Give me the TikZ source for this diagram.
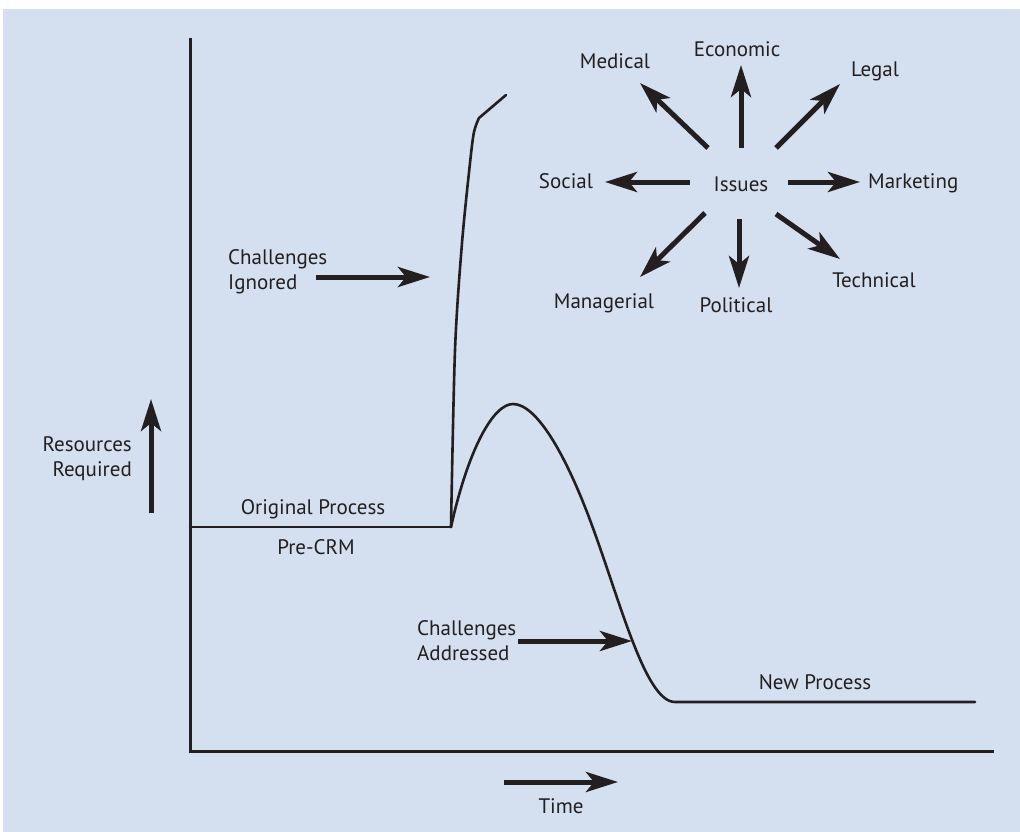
\documentclass[tikz,border=0pt]{standalone}
\usepackage{fontspec}
\setmainfont{PT Sans}
\usetikzlibrary{arrows.meta}
\definecolor{bgblue}{RGB}{212,223,240}
\definecolor{ink}{RGB}{35,31,32}
\begin{document}
\begin{tikzpicture}[x=1pt,y=-1pt,
  lbl/.style={text=ink,font=\fontsize{21}{25}\selectfont,inner sep=0pt},
  bigarrow/.style={draw=ink,line width=5pt,-{Stealth[length=32pt,width=20pt,inset=8pt]}},
  axisline/.style={draw=ink,line width=3pt},
  curveline/.style={draw=ink,line width=2.6pt,line join=round,line cap=round}]
\useasboundingbox (0,0) rectangle (1020,832);
\fill[bgblue] (3,9) rectangle (1020,832);

% axes
\coordinate (ytop) at (190,38);
\coordinate (origin) at (190,751);
\coordinate (xend) at (994,751);
\draw[axisline] (ytop) -- (origin) -- (xend);

% original process line
\coordinate (orig0) at (190,527);
\coordinate (orig1) at (451,527);
\draw[curveline] (orig0) -- (orig1);

% spike (challenges ignored)
\coordinate (spiketop) at (506,95);
\draw[curveline] plot[smooth,tension=0.5] coordinates {(451,527) (455,350) (462,243) (470,163) (474,132) (479,118)} -- (spiketop);

% hump (challenges addressed)
\coordinate (peak) at (513,404);
\coordinate (mid) at (590,520);
\coordinate (new0) at (675,702);
\coordinate (new1) at (975,702);
\draw[curveline] (orig1) .. controls (468,450) and (493,404) .. (peak)
  .. controls (537,404) and (566,456) .. (mid)
  .. controls (620,600) and (645,702) .. (new0) -- (new1);

% labels of the graph
\node[lbl,anchor=base] (origlbl) at (313,514) {Original Process};
\node[lbl,anchor=base] (prelbl) at (316,554) {Pre-CRM};
\node[lbl,anchor=base] (newlbl) at (815,689) {New Process};
\node[lbl,anchor=base] (timelbl) at (561,813) {Time};
\node[lbl,anchor=base east,align=right] (reslbl) at (132,476) {Resources\\Required};
\node[lbl,anchor=base west,align=left] (ignlbl) at (228,289) {Challenges\\Ignored};
\node[lbl,anchor=base west,align=left] (addlbl) at (417,660) {Challenges\\Addressed};

% graph arrows
\coordinate (resA) at (151,513); \coordinate (resB) at (151,399);
\draw[bigarrow] (resA) -- (resB);
\coordinate (ignA) at (316,277); \coordinate (ignB) at (430,277);
\draw[bigarrow] (ignA) -- (ignB);
\coordinate (addA) at (518,641); \coordinate (addB) at (632,641);
\draw[bigarrow] (addA) -- (addB);
\coordinate (timeA) at (504,782); \coordinate (timeB) at (618,782);
\draw[bigarrow] (timeA) -- (timeB);

% issues star
\node[lbl,anchor=base] (issues) at (741,191) {Issues};
\node[lbl,anchor=base] (economic) at (737,57) {Economic};
\node[lbl,anchor=base] (medical) at (615,69) {Medical};
\node[lbl,anchor=base] (legal) at (875,77) {Legal};
\node[lbl,anchor=base] (social) at (566,188) {Social};
\node[lbl,anchor=base west] (marketing) at (868,188) {Marketing};
\node[lbl,anchor=base] (managerial) at (604,308) {Managerial};
\node[lbl,anchor=base] (political) at (736,312) {Political};
\node[lbl,anchor=base] (technical) at (874,287) {Technical};

\coordinate (ecoA) at (741,148); \coordinate (ecoB) at (741,65);
\coordinate (medA) at (708,148); \coordinate (medB) at (640,83);
\coordinate (legA) at (776,148); \coordinate (legB) at (840,84);
\coordinate (socA) at (690,182); \coordinate (socB) at (605,182);
\coordinate (mktA) at (788,182); \coordinate (mktB) at (860,182);
\coordinate (manA) at (705,213); \coordinate (manB) at (640,277);
\coordinate (polA) at (739,219); \coordinate (polB) at (739,288);
\coordinate (tecA) at (776,214); \coordinate (tecB) at (840,259);
\foreach \a in {eco,med,leg,soc,mkt,man,pol,tec}{
  \draw[bigarrow] (\a A) -- (\a B);
}
\end{tikzpicture}
\end{document}
